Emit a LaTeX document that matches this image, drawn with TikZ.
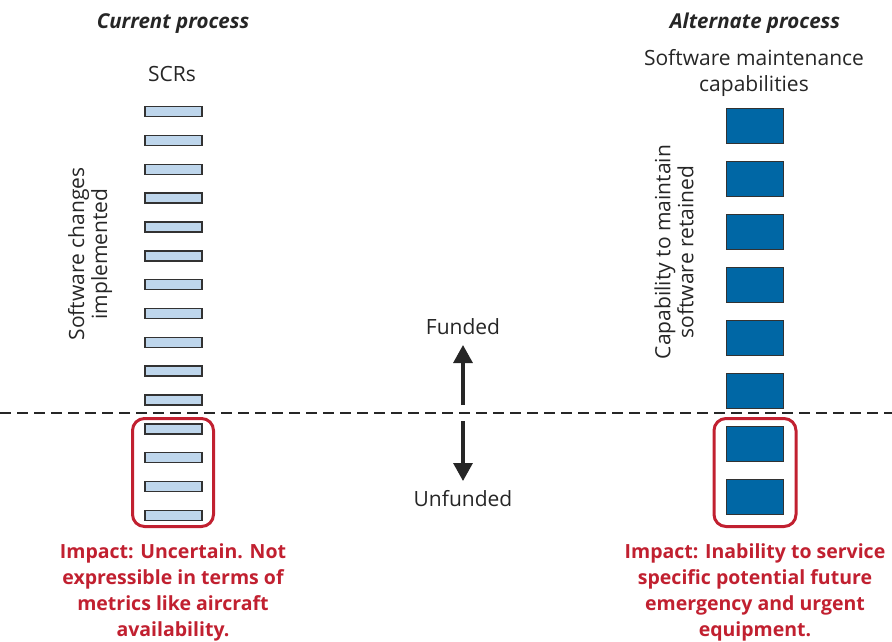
\documentclass[tikz,border=0pt]{standalone}
\usepackage{fontspec}
\setmainfont{Open Sans}
\usetikzlibrary{arrows.meta}
\definecolor{impred}{RGB}{193,32,48}
\definecolor{sqblue}{RGB}{0,103,165}
\definecolor{barblue}{RGB}{190,214,236}
\definecolor{edgegray}{RGB}{50,50,50}
\tikzset{
  txt/.style={font=\fontsize{21}{26}\selectfont, align=center, inner sep=0pt, text=black!85},
  rottxt/.style={font=\fontsize{21}{23}\selectfont, align=center, inner sep=0pt, text=black!85, rotate=90},
  head/.style={font=\fontsize{20.5}{26}\selectfont\bfseries\itshape, inner sep=0pt, text=black!85},
  impact/.style={font=\fontsize{19.5}{26}\selectfont\bfseries, align=center, inner sep=0pt, text=impred},
  scrbar/.style={draw=edgegray, line width=1.5pt, fill=barblue, minimum width=57pt, minimum height=10pt, inner sep=0pt},
  capsq/.style={draw=edgegray, line width=1.2pt, fill=sqblue, minimum width=57pt, minimum height=35pt, inner sep=0pt},
  redbox/.style={draw=impred, line width=3pt, rounded corners=12pt},
  divider/.style={line width=2pt, dash pattern=on 11pt off 6pt, draw=black!85},
  fundarrow/.style={line width=3.2pt, draw=black!85, -{Triangle[length=18pt,width=19pt]}},
}
\begin{document}
\begin{tikzpicture}[x=1pt,y=-1pt]
\useasboundingbox (0,0) rectangle (892,641);
% headings
\node[head] (curhead) at (173,23.5) {Current process};
\node[head] (althead) at (755,23.5) {Alternate process};
\node[txt] (scrs) at (172,74) {SCRs};
\node[txt] (swmc) at (754,73) {Software maintenance\\capabilities};
% bars
\foreach \i in {0,...,14} {
  \node[scrbar] (bar\i) at (173.5,{111.7+28.83*\i}) {};
}
% squares
\foreach \i in {0,...,7} {
  \node[capsq] (sq\i) at (755,{125.8+53*\i}) {};
}
% rotated labels
\node[rottxt] (swchg) at (90,254) {Software changes\\implemented};
\node[rottxt] (capret) at (674,252) {Capability to maintain\\software retained};
% red boxes
\draw[redbox] (132.5,418.5) rectangle (213.5,526.5);
\draw[redbox] (714,418.5) rectangle (796,526.5);
% dashed divider
\coordinate (dl) at (0,412.5);
\coordinate (dr) at (892,412.5);
\draw[divider] (dl) -- (dr);
% funded / unfunded
\node[txt] (funded) at (463,327) {Funded};
\node[txt] (unfunded) at (463,499) {Unfunded};
\coordinate (upstart) at (463,405);
\coordinate (upend) at (463,345);
\coordinate (downstart) at (463,421);
\coordinate (downend) at (463,481);
\draw[fundarrow] (upstart) -- (upend);
\draw[fundarrow] (downstart) -- (downend);
% impacts
\node[impact] (impl) at (173,592) {Impact: Uncertain. Not\\expressible in terms of\\metrics like aircraft\\availability.};
\node[impact] (impr) at (755,592) {Impact: Inability to service\\specific potential future\\emergency and urgent\\equipment.};
\end{tikzpicture}
\end{document}
